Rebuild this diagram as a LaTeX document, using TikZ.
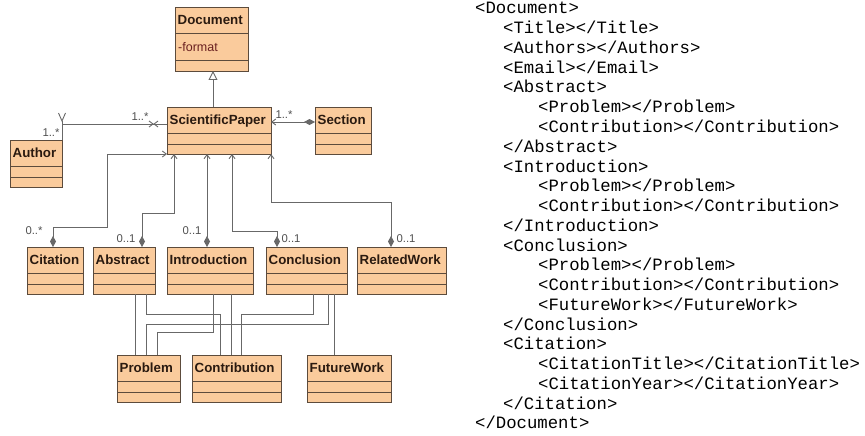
\documentclass[tikz,border=0pt]{standalone}
\usepackage{fontspec}
\setmainfont{Liberation Sans}
\newfontfamily\xmlfont{Liberation Mono}
\usetikzlibrary{arrows.meta}
\definecolor{boxfill}{HTML}{FACB9C}
\definecolor{boxdraw}{HTML}{5C4B3C}
\definecolor{conn}{HTML}{686868}
\definecolor{txt}{HTML}{2A1A10}
\definecolor{attrc}{HTML}{6A2020}
\definecolor{multc}{HTML}{505050}
\tikzset{
  clsbox/.style={draw=boxdraw, fill=boxfill, line width=0.9pt, inner sep=0pt, outer sep=0pt, anchor=north west},
  clsline/.style={draw=boxdraw, line width=0.9pt},
  clstitle/.style={font=\fontsize{13.3}{15}\selectfont\bfseries, text=txt, inner sep=0pt, text height=11pt, text depth=1.7pt, anchor=west},
  attrtext/.style={font=\fontsize{12.5}{15}\selectfont, text=attrc, inner sep=0pt, text height=11pt, text depth=1.7pt, anchor=west},
  conline/.style={draw=conn, line width=0.9pt},
  compo/.style={conline, {Straight Barb[length=4pt,width=6pt]}-{Diamond[length=11pt,width=6pt,fill=conn]}},
  mult/.style={font=\fontsize{11.3}{13}\selectfont, text=multc, inner sep=0pt},
  xmlline/.style={font=\xmlfont\fontsize{17.3}{20}\selectfont, inner sep=0pt, anchor=west, text height=12pt, text depth=2.2pt}
}
\newcommand\umlclass[5]{%
  \node[clsbox, minimum width=#4pt, minimum height=47pt] (#1) at (#2,#3) {};
  \draw[clsline] ([yshift=-26pt]#1.north west) -- ([yshift=-26pt]#1.north east);
  \draw[clsline] ([yshift=-37pt]#1.north west) -- ([yshift=-37pt]#1.north east);
  \node[clstitle] (#1-t) at ([xshift=2.5pt,yshift=-13pt]#1.north west) {#5};
}
\begin{document}
\begin{tikzpicture}[x=1pt,y=-1pt]
\useasboundingbox (0,0) rectangle (865,436);
\fill[white] (0,0) rectangle (865,436);

% Document class
\node[clsbox, minimum width=73pt, minimum height=64pt] (doc) at (175,7) {};
\draw[clsline] ([yshift=-26pt]doc.north west) -- ([yshift=-26pt]doc.north east);
\draw[clsline] ([yshift=-53pt]doc.north west) -- ([yshift=-53pt]doc.north east);
\node[clstitle] (doc-t) at ([xshift=2.5pt,yshift=-13pt]doc.north west) {Document};
\node[attrtext] (doc-a) at ([xshift=3pt,yshift=-39.5pt]doc.north west) {-format};

\umlclass{sp}{167}{107}{104}{ScientificPaper}
\umlclass{sec}{315}{107}{56}{Section}
\umlclass{au}{10}{140}{52}{Author}
\umlclass{cit}{27}{247}{56}{Citation}
\umlclass{abs}{93}{247}{62}{Abstract}
\umlclass{intro}{167}{247}{86}{Introduction}
\umlclass{conc}{266}{247}{81}{Conclusion}
\umlclass{rw}{357}{247}{89}{RelatedWork}
\umlclass{prob}{117}{355}{63}{Problem}
\umlclass{contr}{192}{355}{89}{Contribution}
\umlclass{fw}{307}{355}{84}{FutureWork}

% generalisation
\draw[conline, -{Triangle[open, length=9pt, width=9pt, fill=white]}] ([xshift=-6pt]sp.north) -- ([xshift=1.5pt]doc.south);

% Section composition
\draw[compo] ([yshift=-15pt]sp.north east) -- ([yshift=-15pt]sec.north west);
\node[mult] (m-sec) at (284,115) {1..*};

% Author association
\draw[conline] ([yshift=-17pt]sp.north west) -| (au.north east);
\draw[conline] (62,124) -- (62,121);
\draw[conline] (58.5,113) -- (62,121) -- (65.5,113);
\draw[conline] (149,121) -- (153,124) -- (149,127);
\draw[conline] (158,121) -- (154,124) -- (158,127);
\node[mult] (m-au1) at (140,117) {1..*};
\node[mult] (m-au2) at (51,133) {1..*};

% parts of ScientificPaper
\draw[compo] (sp.south west) -| (107,227) -| ([xshift=-2pt]cit.north);
\draw[compo] ([xshift=7pt]sp.south west) |- (142,213) -- ([xshift=18pt]abs.north);
\draw[compo] ([xshift=40pt]sp.south west) -- ([xshift=-3pt]intro.north);
\draw[compo] ([xshift=65pt]sp.south west) |- (277,231) -- ([xshift=11pt]conc.north west);
\draw[compo] (sp.south east) |- (391,202) -- ([xshift=34pt]rw.north west);
\node[mult] (m-cit) at (34,231) {0..*};
\node[mult] (m-abs) at (126,239) {0..1};
\node[mult] (m-int) at (192,231) {0..1};
\node[mult] (m-con) at (291,239) {0..1};
\node[mult] (m-rw) at (406,239) {0..1};

% sub parts
\draw[conline] ([xshift=42pt]abs.south west) -- ([xshift=18pt]prob.north west);
\draw[conline] ([xshift=53pt]abs.south west) |- (220,314) -- ([xshift=28pt]contr.north west);
\draw[conline] ([xshift=46pt]intro.south west) |- (157,332) -- ([xshift=40pt]prob.north west);
\draw[conline] ([xshift=64pt]intro.south west) -- ([xshift=39pt]contr.north west);
\draw[conline] ([xshift=47pt]conc.south west) |- (241,314) -- ([xshift=49pt]contr.north west);
\draw[conline] ([xshift=62pt]conc.south west) |- (146,324) -- ([xshift=29pt]prob.north west);
\draw[conline] ([xshift=68pt]conc.south west) -- ([xshift=27pt]fw.north west);

% XML listing
\node[xmlline] (x1) at (475,9.0) {<Document>};
\node[xmlline] (x2) at (503,28.8) {<Title></Title>};
\node[xmlline] (x3) at (503,48.5) {<Authors></Authors>};
\node[xmlline] (x4) at (503,68.3) {<Email></Email>};
\node[xmlline] (x5) at (503,88.0) {<Abstract>};
\node[xmlline] (x6) at (538,107.8) {<Problem></Problem>};
\node[xmlline] (x7) at (538,127.6) {<Contribution></Contribution>};
\node[xmlline] (x8) at (503,147.3) {</Abstract>};
\node[xmlline] (x9) at (503,167.1) {<Introduction>};
\node[xmlline] (x10) at (538,186.8) {<Problem></Problem>};
\node[xmlline] (x11) at (538,206.6) {<Contribution></Contribution>};
\node[xmlline] (x12) at (503,226.4) {</Introduction>};
\node[xmlline] (x13) at (503,246.1) {<Conclusion>};
\node[xmlline] (x14) at (538,265.9) {<Problem></Problem>};
\node[xmlline] (x15) at (538,285.6) {<Contribution></Contribution>};
\node[xmlline] (x16) at (538,305.4) {<FutureWork></FutureWork>};
\node[xmlline] (x17) at (503,325.2) {</Conclusion>};
\node[xmlline] (x18) at (503,344.9) {<Citation>};
\node[xmlline] (x19) at (538,364.7) {<CitationTitle></CitationTitle>};
\node[xmlline] (x20) at (538,384.4) {<CitationYear></CitationYear>};
\node[xmlline] (x21) at (503,404.2) {</Citation>};
\node[xmlline] (x22) at (475,424.0) {</Document>};
\end{tikzpicture}
\end{document}
